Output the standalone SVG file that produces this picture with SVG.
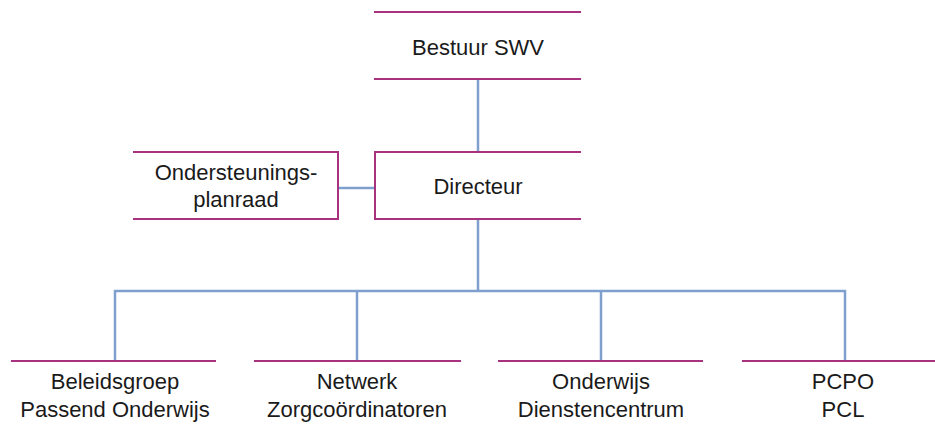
<svg xmlns="http://www.w3.org/2000/svg" width="935" height="426" viewBox="0 0 935 426">
<style>
.b{stroke:#a8327e;stroke-width:2;fill:none}
.c{stroke:#7f9fcf;stroke-width:2.5;fill:none}
text{font-family:"Liberation Sans",Arial,sans-serif;font-size:22px;fill:#1a1a1a;text-anchor:middle}
</style>
<rect width="935" height="426" fill="#fff"/>
<g id="connectors">
<line class="c" x1="478" y1="79" x2="478" y2="152"/>
<line class="c" x1="338" y1="188" x2="375" y2="188"/>
<line class="c" x1="478" y1="219" x2="478" y2="291"/>
<polyline class="c" points="115,361 115,291 845,291 845,361"/>
<line class="c" x1="357" y1="291" x2="357" y2="361"/>
<line class="c" x1="601" y1="291" x2="601" y2="361"/>
</g>
<g id="bestuur">
<line class="b" x1="374" y1="12" x2="581" y2="12"/>
<line class="b" x1="374" y1="79" x2="581" y2="79"/>
<text x="478" y="55">Bestuur SWV</text>
</g>
<g id="directeur">
<polyline class="b" points="581,152 375,152 375,219 581,219"/>
<text x="478" y="194">Directeur</text>
</g>
<g id="ondersteuningsplanraad">
<polyline class="b" points="133,152 338,152 338,219 133,219"/>
<text x="236" y="180">Ondersteunings-</text>
<text x="236" y="207">planraad</text>
</g>
<g id="beleidsgroep">
<line class="b" x1="11" y1="361" x2="216" y2="361"/>
<text x="115" y="389">Beleidsgroep</text>
<text x="115" y="417">Passend Onderwijs</text>
</g>
<g id="netwerk">
<line class="b" x1="254" y1="361" x2="461" y2="361"/>
<text x="357" y="389">Netwerk</text>
<text x="357" y="417">Zorgcoördinatoren</text>
</g>
<g id="odc">
<line class="b" x1="498" y1="361" x2="703" y2="361"/>
<text x="601" y="389">Onderwijs</text>
<text x="601" y="417">Dienstencentrum</text>
</g>
<g id="pcpo">
<line class="b" x1="742" y1="361" x2="935" y2="361"/>
<text x="843" y="389">PCPO</text>
<text x="843" y="417">PCL</text>
</g>
</svg>
